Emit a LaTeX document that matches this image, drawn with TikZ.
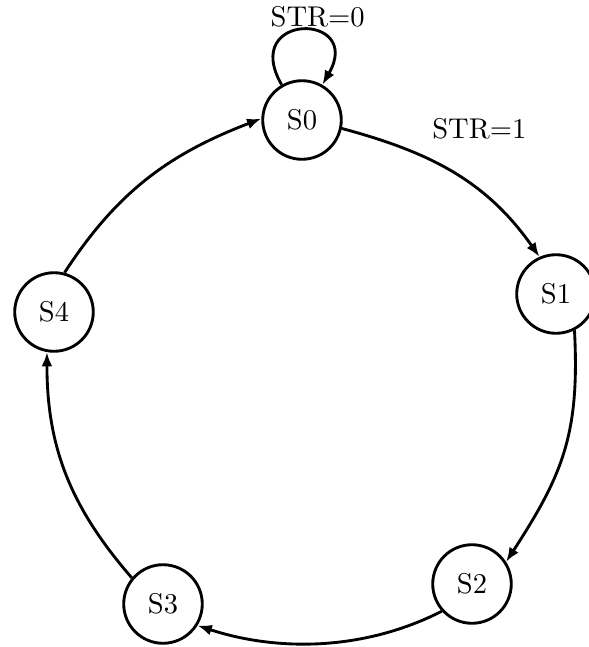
\documentclass[tikz,border=0pt]{standalone}
\usetikzlibrary{arrows.meta}
\begin{document}
\begin{tikzpicture}[x=0.35pt,y=0.35pt,
  state/.style={circle,draw,line width=1pt,minimum size=27.5pt,inner sep=0pt},
  trans/.style={line width=1pt,-{Latex[length=5pt,width=3.8pt]}},
  lbl/.style={inner sep=0pt}]
\useasboundingbox (0,0) rectangle (589,-647);
\node[state] (s0) at (302,-120) {S0};
\node[state] (s1) at (556,-294) {S1};
\node[state] (s2) at (472,-584) {S2};
\node[state] (s3) at (163,-604) {S3};
\node[state] (s4) at (54,-312) {S4};
\draw[trans] (s0) to[out=120,in=60,looseness=5.3]
  node[lbl,pos=0.5,above=0.5pt,xshift=5.5pt] {STR=0} (s0);
\draw[trans] (s0.-12) to[out=-15,in=125]
  node[lbl,pos=0.3,above right=4pt,xshift=2pt] {STR=1} (s1.114);
\draw[trans] (s1.-63) to[out=-87,in=57,looseness=1.1] (s2.33);
\draw[trans] (s2.222) to[out=-153,in=-18,looseness=0.9] (s3.-32);
\draw[trans] (s3.140) to[out=131,in=-90] (s4.-100);
\draw[trans] (s4.75) to[out=57,in=-159] (s0.178);
\end{tikzpicture}
\end{document}
